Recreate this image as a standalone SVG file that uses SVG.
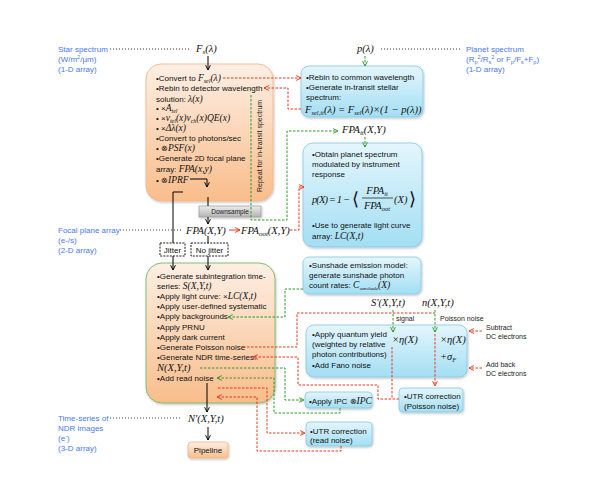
<svg xmlns="http://www.w3.org/2000/svg" width="598" height="479" viewBox="0 0 598 479">
<defs>
<linearGradient id="gOr" x1="0" y1="0" x2="0" y2="1"><stop offset="0" stop-color="#fdefe4"/><stop offset="1" stop-color="#f9bd8b"/></linearGradient>
<linearGradient id="gCy" x1="0" y1="0" x2="0" y2="1"><stop offset="0" stop-color="#e4f6fd"/><stop offset="1" stop-color="#a3def3"/></linearGradient>
<linearGradient id="gGr" x1="0" y1="0" x2="0" y2="1"><stop offset="0" stop-color="#ececec"/><stop offset="1" stop-color="#b3b3b3"/></linearGradient>
<filter id="sh" x="-10%" y="-10%" width="130%" height="130%"><feDropShadow dx="0.8" dy="1.2" stdDeviation="0.8" flood-color="#000" flood-opacity="0.25"/></filter>
<marker id="aK" viewBox="0 0 10 10" refX="9" refY="5" markerWidth="6" markerHeight="6" orient="auto" markerUnits="userSpaceOnUse"><path d="M1,1 L9,5 L1,9" fill="none" stroke="#000" stroke-width="1.6"/></marker>
<marker id="aR" viewBox="0 0 10 10" refX="9" refY="5" markerWidth="6" markerHeight="6" orient="auto" markerUnits="userSpaceOnUse"><path d="M1,1 L9,5 L1,9" fill="none" stroke="#e5381d" stroke-width="1.6"/></marker>
<marker id="aG" viewBox="0 0 10 10" refX="9" refY="5" markerWidth="6" markerHeight="6" orient="auto" markerUnits="userSpaceOnUse"><path d="M1,1 L9,5 L1,9" fill="none" stroke="#2f9a2f" stroke-width="1.6"/></marker>
</defs>
<style>
.t{font-family:"Liberation Sans",Arial,sans-serif;font-size:8px;fill:#111}
.s{font-family:"Liberation Sans",Arial,sans-serif;font-size:7px;fill:#222}
.m{font-family:"Liberation Serif","Times New Roman",serif;font-style:italic;font-size:10.5px;fill:#111}
.mi{font-family:"Liberation Serif","Times New Roman",serif;font-style:italic;font-size:9.5px;fill:#111}
.lab{font-family:"Liberation Sans",Arial,sans-serif;font-size:8px;fill:#4a78f0}
.dot{fill:none;stroke:#222;stroke-width:0.9;stroke-dasharray:1 2}
.k{fill:none;stroke:#000;stroke-width:1}
.rd{fill:none;stroke:#e5381d;stroke-width:1;stroke-dasharray:2.5 1.5}
.gd{fill:none;stroke:#2f9a2f;stroke-width:1;stroke-dasharray:2.5 1.5}
.or{fill:url(#gOr);stroke:#f3b387;stroke-width:0.8}
.cy{fill:url(#gCy);stroke:#86c8e4;stroke-width:0.8}
.jb{fill:#fff;stroke:#000;stroke-width:0.9;stroke-dasharray:2 1.2}
</style>
<rect width="598" height="479" fill="#fff"/>

<!-- labels -->
<g id="lbl-star">
<text class="lab" x="58" y="52">Star spectrum</text>
<text class="lab" x="58" y="62">(W/m<tspan font-size="5.5" dy="-3">2</tspan><tspan dy="3">/μm)</tspan></text>
<text class="lab" x="58" y="72">(1-D array)</text>
</g>
<g id="lbl-planet">
<text class="lab" x="466" y="52">Planet spectrum</text>
<text class="lab" x="466" y="62">(R<tspan font-size="5.5" dy="2">p</tspan><tspan font-size="5.5" dy="-5">2</tspan><tspan dy="3">/R</tspan><tspan font-size="5.5" dy="2">s</tspan><tspan font-size="5.5" dy="-5">2</tspan><tspan dy="3"> or F</tspan><tspan font-size="5.5" dy="2">p</tspan><tspan dy="-2">/F</tspan><tspan font-size="5.5" dy="2">s</tspan><tspan dy="-2">+F</tspan><tspan font-size="5.5" dy="2">p</tspan><tspan dy="-2">)</tspan></text>
<text class="lab" x="466" y="72">(1-D array)</text>
</g>
<g id="lbl-fpa">
<text class="lab" x="58" y="233">Focal plane array</text>
<text class="lab" x="58" y="243">(e-/s)</text>
<text class="lab" x="58" y="253">(2-D array)</text>
</g>
<g id="lbl-ndr">
<text class="lab" x="58" y="421">Time-series of</text>
<text class="lab" x="58" y="431">NDR images</text>
<text class="lab" x="58" y="441">(e<tspan font-size="5.5" dy="-3">-</tspan><tspan dy="3">)</tspan></text>
<text class="lab" x="58" y="451">(3-D array)</text>
</g>

<!-- variables -->
<g id="v-fs"><text class="m" x="196" y="52">F<tspan font-size="7" dy="2">s</tspan><tspan dy="-2">(λ)</tspan></text></g>
<g id="v-p"><text class="m" x="357" y="52">p(λ)</text></g>
<g id="v-fpait"><text class="m" x="342" y="133">FPA<tspan font-size="7" dy="2">it</tspan><tspan dy="-2">(X,Y)</tspan></text></g>
<g id="v-cfpa"><text class="m" x="185" y="195">cFPA(x,y)</text></g>
<g id="v-fpa"><text class="m" x="186" y="233.5">FPA(X,Y)</text></g>
<g id="v-fpaoot"><text class="m" x="241" y="233.5">FPA<tspan font-size="7" dy="2">oot</tspan><tspan dy="-2">(X,Y)</tspan></text></g>
<g id="v-sp"><text class="m" x="371" y="306">S'(X,Y,t)</text></g>
<g id="v-n"><text class="m" x="422" y="306">n(X,Y,t)</text></g>
<g id="v-np"><text class="m" x="188" y="422">N'(X,Y,t)</text></g>

<!-- box 1 -->
<g id="box-convert">
<rect class="or" x="146" y="64" width="127" height="137" rx="15" filter="url(#sh)"/>
<text class="t" x="156" y="81">•Convert to <tspan class="mi">F</tspan><tspan class="mi" style="font-size:6px" dy="2">sel</tspan><tspan class="mi" dy="-2">(λ)</tspan></text>
<text class="t" x="156" y="91">•Rebin to detector wavelength</text>
<text class="t" x="156" y="101.5">solution:  <tspan class="mi">λ(x)</tspan></text>
<text class="t" x="156" y="110.5">• ×<tspan class="mi">A</tspan><tspan class="mi" style="font-size:6px" dy="2">tel</tspan></text>
<text class="t" x="156" y="121">• ×<tspan class="mi">ν</tspan><tspan class="mi" style="font-size:6px" dy="2">tel</tspan><tspan class="mi" dy="-2">(x)ν</tspan><tspan class="mi" style="font-size:6px" dy="2">ch</tspan><tspan class="mi" dy="-2">(x)QE(x)</tspan></text>
<text class="t" x="156" y="131">• ×<tspan class="mi">Δλ(x)</tspan></text>
<text class="t" x="156" y="140.5">•Convert to photons/sec</text>
<text class="t" x="156" y="151">• ⊗<tspan class="mi">PSF(x)</tspan></text>
<text class="t" x="156" y="161">•Generate 2D focal plane</text>
<text class="t" x="156" y="172">array:  <tspan class="mi">FPA(x,y)</tspan></text>
<text class="t" x="156" y="183">• ⊗<tspan class="mi">IPRF</tspan></text>
<text class="s" transform="translate(262,192) rotate(-90)">Repeat for in-transit spectrum</text>
</g>

<g id="box-downsample">
<rect x="199" y="206" width="62" height="11" fill="url(#gGr)" stroke="#9a9a9a" stroke-width="0.7" filter="url(#sh)"/>
<text class="s" x="230" y="214" style="font-size:6.5px" text-anchor="middle">Downsample</text>
</g>

<g id="box-jitter">
<rect class="jb" x="160" y="243" width="25" height="13"/>
<text class="t" x="172.5" y="252.5" text-anchor="middle">Jitter</text>
</g>
<g id="box-nojitter">
<rect class="jb" x="191" y="243" width="37" height="13"/>
<text class="t" x="209.5" y="252.5" text-anchor="middle">No jitter</text>
</g>

<!-- cyan box 1 -->
<g id="box-rebin">
<rect class="cy" x="301" y="66" width="122" height="51" rx="8" filter="url(#sh)"/>
<text class="t" x="306" y="80">•Rebin to common wavelength</text>
<text class="t" x="306" y="90">•Generate in-transit stellar</text>
<text class="t" x="306" y="100">spectrum:</text>
<text class="m" x="305" y="113">F<tspan font-size="6.5" dy="2">sel,it</tspan><tspan dy="-2">(λ) = F</tspan><tspan font-size="6.5" dy="2">sel</tspan><tspan dy="-2">(λ)×(1 − p(λ))</tspan></text>
</g>

<!-- cyan box 2 -->
<g id="box-planet">
<rect class="cy" x="303" y="143" width="119" height="104" rx="10" filter="url(#sh)"/>
<text class="t" x="312" y="157">•Obtain planet spectrum</text>
<text class="t" x="312" y="167">modulated by instrument</text>
<text class="t" x="312" y="177">response</text>
<text class="m" x="312" y="203" textLength="38" lengthAdjust="spacing">p(X) = 1 −</text>
<text class="m" x="352" y="205" style="font-size:18px;font-style:normal">⟨</text>
<text class="m" x="377" y="194" text-anchor="middle">FPA<tspan font-size="6.5" dy="2">it</tspan></text>
<line x1="362" y1="198" x2="393" y2="198" stroke="#111" stroke-width="0.7"/>
<text class="m" x="377" y="209" text-anchor="middle">FPA<tspan font-size="6.5" dy="2">oot</tspan></text>
<text class="m" x="394" y="203">(X)</text>
<text class="m" x="409" y="205" style="font-size:18px;font-style:normal">⟩</text>
<text class="t" x="312" y="228">•Use to generate light curve</text>
<text class="t" x="312" y="239">array:  <tspan class="mi">LC(X,t)</tspan></text>
</g>

<!-- sunshade -->
<g id="box-sunshade">
<rect class="cy" x="303" y="257" width="118" height="37" rx="6" filter="url(#sh)"/>
<text class="t" x="309" y="268">•Sunshade emission model:</text>
<text class="t" x="309" y="277.5">generate sunshade photon</text>
<text class="t" x="309" y="288">count rates: <tspan class="mi">C</tspan><tspan class="mi" style="font-size:5px" dy="2">sunshade</tspan><tspan class="mi" dy="-2">(X)</tspan></text>
</g>

<!-- orange box 2 -->
<g id="box-generate">
<rect x="146" y="263" width="129" height="140" rx="16" fill="url(#gOr)" stroke="#7ab962" stroke-width="0.9" filter="url(#sh)"/>
<text class="t" x="157" y="278.5">•Generate subintegration time-</text>
<text class="t" x="157" y="288.5">series:  <tspan class="mi">S(X,Y,t)</tspan></text>
<text class="t" x="157" y="298.5">•Apply light curve: ×<tspan class="mi">LC(X,t)</tspan></text>
<text class="t" x="157" y="308.5">•Apply user-defined systematic</text>
<text class="t" x="157" y="319">•Apply backgrounds</text>
<text class="t" x="157" y="329.5">•Apply PRNU</text>
<text class="t" x="157" y="339.5">•Apply dark current</text>
<text class="t" x="157" y="350">•Generate Poisson noise</text>
<text class="t" x="157" y="360">•Generate NDR time-series:</text>
<text class="m" x="157" y="371">N(X,Y,t)</text>
<text class="t" x="157" y="380.5">•Add read noise</text>
</g>

<!-- quantum yield -->
<g id="box-qy">
<rect class="cy" x="306" y="325" width="161" height="52" rx="8" filter="url(#sh)"/>
<text class="t" x="312" y="337">•Apply quantum yield</text>
<text class="t" x="312" y="347">(weighted by relative</text>
<text class="t" x="312" y="357">photon contributions)</text>
<text class="t" x="312" y="368">•Add Fano noise</text>
<text class="m" x="392" y="343">×η(X)</text>
<text class="m" x="440" y="343">×η(X)</text>
<text class="m" x="440" y="360">+σ<tspan font-size="6.5" dy="2">F</tspan></text>
</g>

<g id="lbl-dc">
<text class="s" x="486" y="330">Subtract</text>
<text class="s" x="486" y="339">DC electrons</text>
<text class="s" x="486" y="367">Add back</text>
<text class="s" x="486" y="376">DC electrons</text>
</g>

<g id="box-utrp">
<rect class="cy" x="399" y="388" width="64" height="24" rx="4" filter="url(#sh)"/>
<text class="t" x="404" y="399">•UTR correction</text>
<text class="t" x="404" y="409">(Poisson noise)</text>
</g>
<g id="box-ipc">
<rect class="cy" x="305" y="392" width="67" height="16" rx="4" filter="url(#sh)"/>
<text class="t" x="309" y="403.5">•Apply IPC ⊗<tspan class="mi">IPC</tspan></text>
</g>
<g id="box-utrr">
<rect class="cy" x="306" y="422" width="66" height="24" rx="4" filter="url(#sh)"/>
<text class="t" x="310" y="433.5">•UTR correction</text>
<text class="t" x="310" y="443">(read noise)</text>
</g>
<g id="box-pipeline">
<rect x="188" y="442" width="40" height="16" rx="3" fill="url(#gOr)" stroke="#f3b387" stroke-width="0.8" filter="url(#sh)"/>
<text class="t" x="208" y="453" text-anchor="middle">Pipeline</text>
</g>
<g id="lbl-sig">
<text class="s" x="396" y="321">signal</text>
<text class="s" x="440" y="321">Poisson noise</text>
</g>

<!-- connectors -->
<g id="connectors">
<path class="dot" d="M110,49 H190"/>
<path class="dot" d="M381,49 H462"/>
<path class="dot" d="M120,230 H183"/>
<path class="dot" d="M110,418 H182"/>
<path class="k" d="M208,56 V70" marker-end="url(#aK)"/>
<path class="k" d="M190,179 H207 V187" marker-end="url(#aK)"/>
<path class="k" d="M208,197 V206"/>
<path class="k" d="M208,217 V224" marker-end="url(#aK)"/>
<path class="k" d="M183,192 H173 V243"/>
<path class="k" d="M208,236 V243"/>
<path class="k" d="M173,256 V270" marker-end="url(#aK)"/>
<path class="k" d="M208,256 V270" marker-end="url(#aK)"/>
<path class="k" d="M207,383 V412" marker-end="url(#aK)"/>
<path class="k" d="M208,427 V440" marker-end="url(#aK)"/>
<path d="M229,230 H240" fill="none" stroke="#e5381d" stroke-width="1" marker-end="url(#aR)"/>
<path class="rd" d="M223,78 H301" marker-end="url(#aR)"/>
<path class="rd" d="M301,109 H288 V88 H264" marker-end="url(#aR)"/>
<path class="rd" d="M290,230 H299 V187 H304" marker-end="url(#aR)"/>
<path class="gd" d="M365,56 V66" marker-end="url(#aG)"/>
<path class="gd" d="M251,95 V220 H287 V131 H338" marker-end="url(#aG)"/>
<path class="gd" d="M365,137 V147" marker-end="url(#aG)"/>
<path class="gd" d="M303,289 H285 V317 H228" marker-end="url(#aG)"/>
<path class="gd" d="M393,310 V332" marker-end="url(#aG)"/>
<path class="gd" d="M435,310 V332" marker-end="url(#aG)"/>
<path class="rd" d="M243,347 H297 V313 H435"/>
<path class="rd" d="M435,334 V386" marker-end="url(#aR)"/>
<path class="rd" d="M392,347 V399"/>
<path class="rd" d="M399,399 H378 V385 H298 V357 H253" marker-end="url(#aR)"/>
<path class="rd" d="M482,331 H469" marker-end="url(#aR)"/>
<path class="rd" d="M482,368 H469" marker-end="url(#aR)"/>
<path class="gd" d="M200,368 H285 V400 H304" marker-end="url(#aG)"/>
<path class="gd" d="M340,408 V413 H274 V378 H217" marker-end="url(#aG)"/>
<path class="rd" d="M218,388 H267 V433 H305" marker-end="url(#aR)"/>
<path class="rd" d="M341,446 V451 H257 V397 H217" marker-end="url(#aR)"/>
</g>
</svg>
